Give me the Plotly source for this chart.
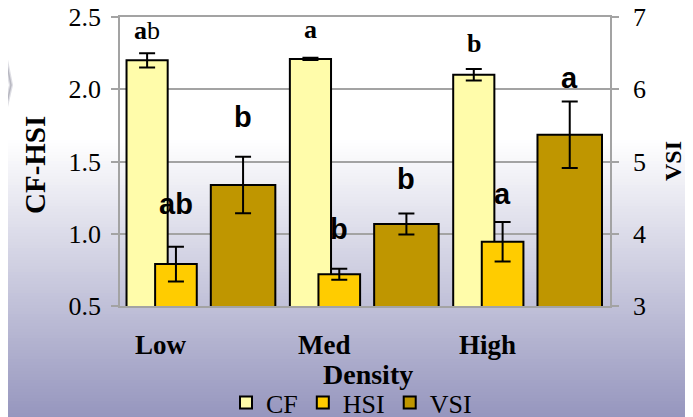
import plotly.graph_objects as go

# ---------------- data ----------------
CATEGORIES = ["Low", "Med", "High"]
CF = [2.20, 2.21, 2.10]
CF_ERR = [0.05, 0.008, 0.04]
HSI = [0.79, 0.72, 0.945]
HSI_ERR = [0.12, 0.038, 0.137]
VSI = [4.675, 4.135, 5.37]
VSI_ERR = [0.39, 0.145, 0.46]
CF_LETTERS = ["<b>a</b>b", "<b>a</b>", "<b>b</b>"]
HSI_LETTERS = ["<b>ab</b>", "<b>b</b>", "<b>a</b>"]
VSI_LETTERS = ["<b>b</b>", "<b>b</b>", "<b>a</b>"]
LEFT_TICKS = [0.5, 1.0, 1.5, 2.0, 2.5]
RIGHT_TICKS = [3, 4, 5, 6, 7]

# ---------------- styling ----------------
OFF = 8                      # page body margin offset
W, H = 685, 409
ML, MT = 120 - OFF, 17 - OFF
MR = W - (610 - OFF)
MB = H - (306 - OFF)
PW, PH = W - ML - MR, H - MT - MB
SERIF = "Liberation Serif"
SANS = "Liberation Sans"
GRID = "#a3a3a3"

def px2paper_x(px):          # px: window pixel
    return (px - OFF - ML) / PW

def px2paper_y(py):
    return (H - MB - (py - OFF)) / PH

# bar geometry in category units (offset from category centre, width)
CF_OFF, CF_W = -0.46, 0.252
HSI_OFF, HSI_W = -0.285, 0.255
VSI_OFF, VSI_W = 0.056, 0.395

fig = go.Figure()
err_style = dict(type="data", color="black", thickness=2, width=8, visible=True)
fig.add_trace(go.Bar(name="CF", x=CATEGORIES, y=CF, offset=CF_OFF, width=CF_W,
                     marker=dict(color="#FFFCAA", line=dict(color="black", width=2)),
                     error_y=dict(array=CF_ERR, **err_style), yaxis="y"))
fig.add_trace(go.Bar(name="HSI", x=CATEGORIES, y=HSI, offset=HSI_OFF, width=HSI_W,
                     marker=dict(color="#FFCC00", line=dict(color="black", width=2)),
                     error_y=dict(array=HSI_ERR, **err_style), yaxis="y"))
fig.add_trace(go.Bar(name="VSI", x=CATEGORIES, y=VSI, offset=VSI_OFF, width=VSI_W,
                     marker=dict(color="#BF9600", line=dict(color="black", width=2)),
                     error_y=dict(array=VSI_ERR, **err_style), yaxis="y2"))

annotations = []
CF_SHIFT = [6, 12, 9]
HSI_SHIFT = [25, 22, 10]
VSI_SHIFT = [22, 17, 6]
for i in range(len(CATEGORIES)):
    annotations.append(dict(x=i + CF_OFF + CF_W / 2, y=CF[i] + CF_ERR[i], xref="x", yref="y",
                            text=CF_LETTERS[i], showarrow=False, yanchor="bottom", xanchor="center",
                            yshift=CF_SHIFT[i], font=dict(family=SERIF, size=26, color="black")))
    annotations.append(dict(x=i + HSI_OFF + HSI_W / 2, y=HSI[i] + HSI_ERR[i], xref="x", yref="y",
                            text=HSI_LETTERS[i], showarrow=False, yanchor="bottom", xanchor="center",
                            yshift=HSI_SHIFT[i], font=dict(family=SANS, size=29, color="black")))
    annotations.append(dict(x=i + VSI_OFF + VSI_W / 2, y=VSI[i] + VSI_ERR[i], xref="x", yref="y2",
                            text=VSI_LETTERS[i], showarrow=False, yanchor="bottom", xanchor="center",
                            yshift=VSI_SHIFT[i], font=dict(family=SANS, size=29, color="black")))
    # category labels (placed left of the group centre, as in the original)
    annotations.append(dict(x=i - 0.25, y=px2paper_y(345), xref="x", yref="paper",
                            text="<b>%s</b>" % CATEGORIES[i], showarrow=False, yanchor="middle",
                            xanchor="center", font=dict(family=SERIF, size=27, color="black")))

annotations.append(dict(x=px2paper_x(368), y=px2paper_y(375), xref="paper", yref="paper",
                        text="<b>Density</b>", showarrow=False, yanchor="middle", xanchor="center",
                        font=dict(family=SERIF, size=28, color="black")))
annotations.append(dict(x=px2paper_x(35), y=px2paper_y(165), xref="paper", yref="paper",
                        text="<b>CF-HSI</b>", showarrow=False, textangle=-90,
                        xanchor="center", yanchor="middle",
                        font=dict(family=SERIF, size=29, color="black")))
annotations.append(dict(x=px2paper_x(673), y=px2paper_y(161), xref="paper", yref="paper",
                        text="<b>VSI</b>", showarrow=False, textangle=-90,
                        xanchor="center", yanchor="middle",
                        font=dict(family=SERIF, size=24, color="black")))

# background gradient (white at top fading to lavender at bottom)
shapes = []
g0, step = 140, 3
top_c, bot_c = (255, 255, 255), (150, 150, 190)
py = g0
while py < H + OFF:
    t = (py + step / 2 - g0) / (417 - g0)
    c = tuple(round(top_c[k] + (bot_c[k] - top_c[k]) * t) for k in range(3))
    shapes.append(dict(type="rect", xref="paper", yref="paper", layer="below",
                       x0=px2paper_x(0), x1=px2paper_x(W + 2 * OFF),
                       y0=px2paper_y(py + step + 0.5), y1=px2paper_y(py),
                       fillcolor="rgb(%d,%d,%d)" % c, line=dict(width=0)))
    py += step
# faint chevron at the left edge
chev = "M %f,%f L %f,%f L %f,%f" % (px2paper_x(0), px2paper_y(30), px2paper_x(11), px2paper_y(85),
                                   px2paper_x(0), px2paper_y(133))
shapes.append(dict(type="path", xref="paper", yref="paper", layer="below", path=chev,
                   line=dict(color="rgba(200,200,210,0.6)", width=4)))
shapes.append(dict(type="path", xref="paper", yref="paper", layer="below", path=chev,
                   line=dict(color="rgba(180,180,190,0.9)", width=1.5)))

fig.update_layout(
    width=W, height=H, margin=dict(l=ML, r=MR, t=MT, b=MB, autoexpand=False),
    paper_bgcolor="white", plot_bgcolor="rgba(0,0,0,0)",
    barmode="overlay", showlegend=True,
    legend=dict(orientation="h", x=px2paper_x(226), xanchor="left", y=px2paper_y(379), yanchor="top",
                font=dict(family=SERIF, size=26, color="black"), bgcolor="rgba(0,0,0,0)",
                itemclick=False),
    xaxis=dict(type="category", range=[-0.5, 2.5], showticklabels=False, ticks="",
               showline=True, mirror=True, linecolor=GRID, linewidth=1.5, showgrid=False,
               zeroline=False, automargin=False),
    yaxis=dict(range=[0.5, 2.5], tickvals=LEFT_TICKS, tickformat=".1f", showgrid=True,
               gridcolor=GRID, gridwidth=1.5, showline=True, linecolor=GRID, linewidth=1.5,
               ticks="outside", ticklen=7, tickcolor=GRID, tickwidth=1.5, zeroline=False,
               automargin=False, ticklabelstandoff=5, ticklabeloverflow="allow",
               tickfont=dict(family=SERIF, size=26, color="black")),
    yaxis2=dict(range=[3, 7], tickvals=RIGHT_TICKS, overlaying="y", side="right", showgrid=False,
                showline=True, linecolor=GRID, linewidth=1.5, ticks="outside", ticklen=7,
                tickcolor=GRID, tickwidth=1.5, zeroline=False, automargin=False,
                ticklabelstandoff=9, ticklabeloverflow="allow",
                tickfont=dict(family=SERIF, size=26, color="black")),
    annotations=annotations, shapes=shapes,
)

fig.write_html("out.html")
